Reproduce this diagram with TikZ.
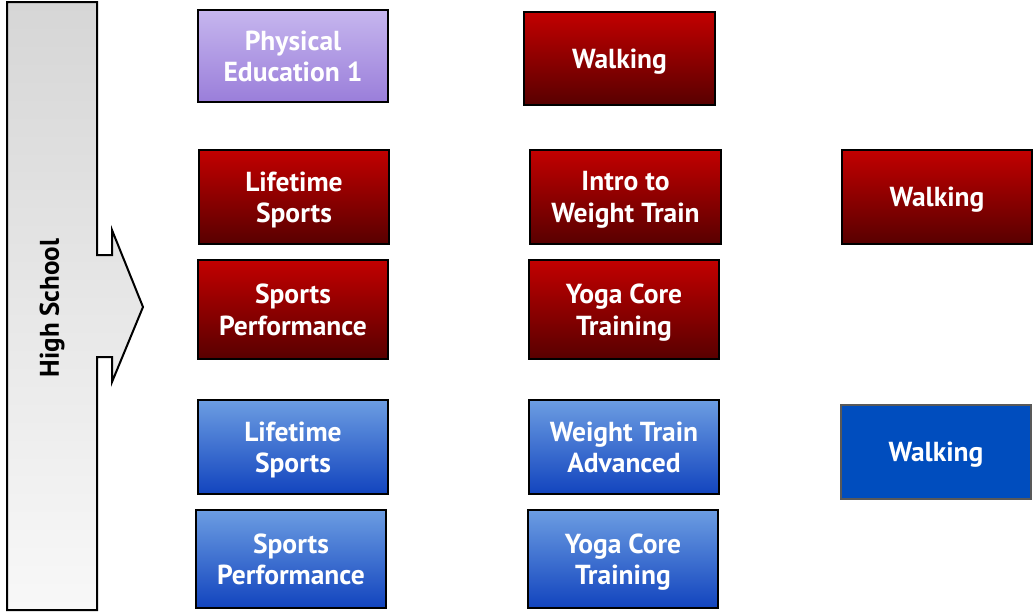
\documentclass[tikz,border=0pt]{standalone}
\usepackage{fontspec}
\setmainfont{PT Sans}
\definecolor{redtop}{HTML}{C20000}
\definecolor{redbot}{HTML}{580000}
\definecolor{bluetop}{HTML}{6C9DE2}
\definecolor{bluebot}{HTML}{1244BE}
\definecolor{purptop}{HTML}{C6B6EE}
\definecolor{purpbot}{HTML}{9A7EDA}
\definecolor{solidblue}{HTML}{004DBE}
\definecolor{graytop}{HTML}{D6D6D6}
\definecolor{graybot}{HTML}{F8F8F8}
\tikzset{
  course/.style={rectangle, draw=black, line width=2pt, minimum width=190pt,
    minimum height=94pt, text=white, align=center, text depth=0pt,
    font=\fontsize{27.5}{31.5}\selectfont\bfseries},
  redbox/.style={course, top color=redtop, bottom color=redbot},
  bluebox/.style={course, top color=bluetop, bottom color=bluebot},
  purpbox/.style={course, top color=purptop, bottom color=purpbot},
  walkbox/.style={course, draw=black!65, fill=solidblue}
}
\begin{document}
\begin{tikzpicture}[x=1pt,y=-1pt]
\useasboundingbox (0,0) rectangle (1036,614);
% high school arrow
\shade[top color=graytop, bottom color=graybot, draw=black, line width=2pt]
  (7,2)--(97,2)--(97,255)--(112,255)--(112,230)--(143,307)--(112,382)
  --(112,357)--(97,357)--(97,610)--(7,610)--cycle;
\node[rotate=90, font=\fontsize{27}{31}\selectfont\bfseries] (hs) at (52,308) {High School};
% first column
\node[purpbox, minimum height=92pt] (pe1) at (293,56) {Physical\\Education 1};
\node[redbox] (ls1) at (294,197) {Lifetime\\Sports};
\node[redbox, minimum height=99pt] (sp1) at (293,309.5) {Sports\\Performance};
\node[bluebox] (ls2) at (293,447) {Lifetime\\Sports};
\node[bluebox, minimum height=98pt] (sp2) at (291,559) {Sports\\Performance};
% second column
\node[redbox, minimum width=191pt, minimum height=93pt] (walk1) at (619.5,58.5) {Walking};
\node[redbox, minimum width=191pt] (intro) at (625.5,197) {Intro to\\Weight Train};
\node[redbox, minimum height=99pt] (yoga1) at (624,309.5) {Yoga Core\\Training};
\node[bluebox] (wta) at (624,447) {Weight Train\\Advanced};
\node[bluebox, minimum height=98pt] (yoga2) at (623,559) {Yoga Core\\Training};
% third column
\node[redbox] (walk2) at (937,197) {Walking};
\node[walkbox] (walk3) at (936,452) {Walking};
\end{tikzpicture}
\end{document}
